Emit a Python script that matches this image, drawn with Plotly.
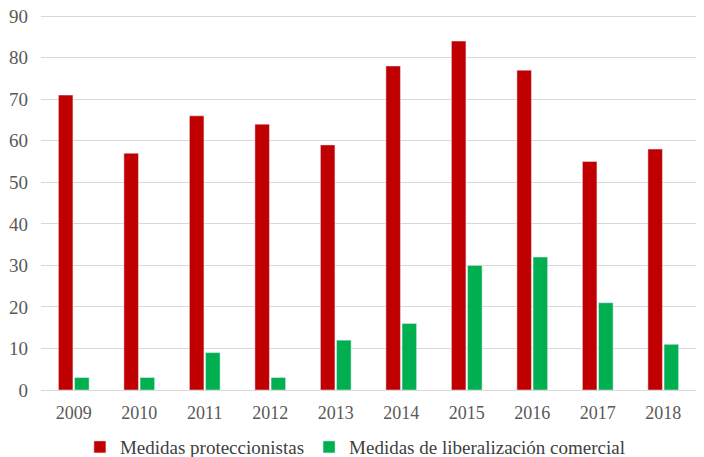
import plotly.graph_objects as go

years = ["2009", "2010", "2011", "2012", "2013", "2014", "2015", "2016", "2017", "2018"]
proteccionistas = [71, 57, 66, 64, 59, 78, 84, 77, 55, 58]
liberalizacion = [3, 3, 9, 3, 12, 16, 30, 32, 21, 11]

RED = "#C00000"
GREEN = "#00B050"
FONT = "Liberation Serif"

fig = go.Figure()
fig.add_trace(go.Bar(x=years, y=proteccionistas, name="Medidas proteccionistas",
                     marker_color=RED))
fig.add_trace(go.Bar(x=years, y=liberalizacion, name="Medidas de liberalización comercial",
                     marker_color=GREEN))

fig.update_layout(
    width=704, height=457,
    margin=dict(l=41, r=8, t=12, b=67, autoexpand=False),
    paper_bgcolor="white", plot_bgcolor="white",
    barmode="group", bargap=0.507, bargroupgap=0.1,
    font=dict(family=FONT, size=17, color="#595959"),
    legend=dict(orientation="h", x=0.48, xanchor="center", y=-0.151, yanchor="middle",
                font=dict(family=FONT, size=19, color="#404040"), itemwidth=30,
                tracegroupgap=0),
    xaxis=dict(showgrid=False, showline=True, linecolor="#d9d9d9", ticks="",
               automargin=False, ticklabelstandoff=6,
               tickfont=dict(family=FONT, size=18, color="#595959")),
    yaxis=dict(range=[0, 91], tickvals=list(range(0, 91, 10)), showgrid=True,
               gridcolor="#d9d9d9", zeroline=False, ticks="", automargin=False,
               ticklabelstandoff=12, ticklabeloverflow="allow",
               tickfont=dict(family=FONT, size=19, color="#595959")),
)

# drop the browser's default 8px body margin so the figure fills the window
fig.write_html("out.html", config={"displayModeBar": False},
               post_script="document.body.style.margin='0';")
